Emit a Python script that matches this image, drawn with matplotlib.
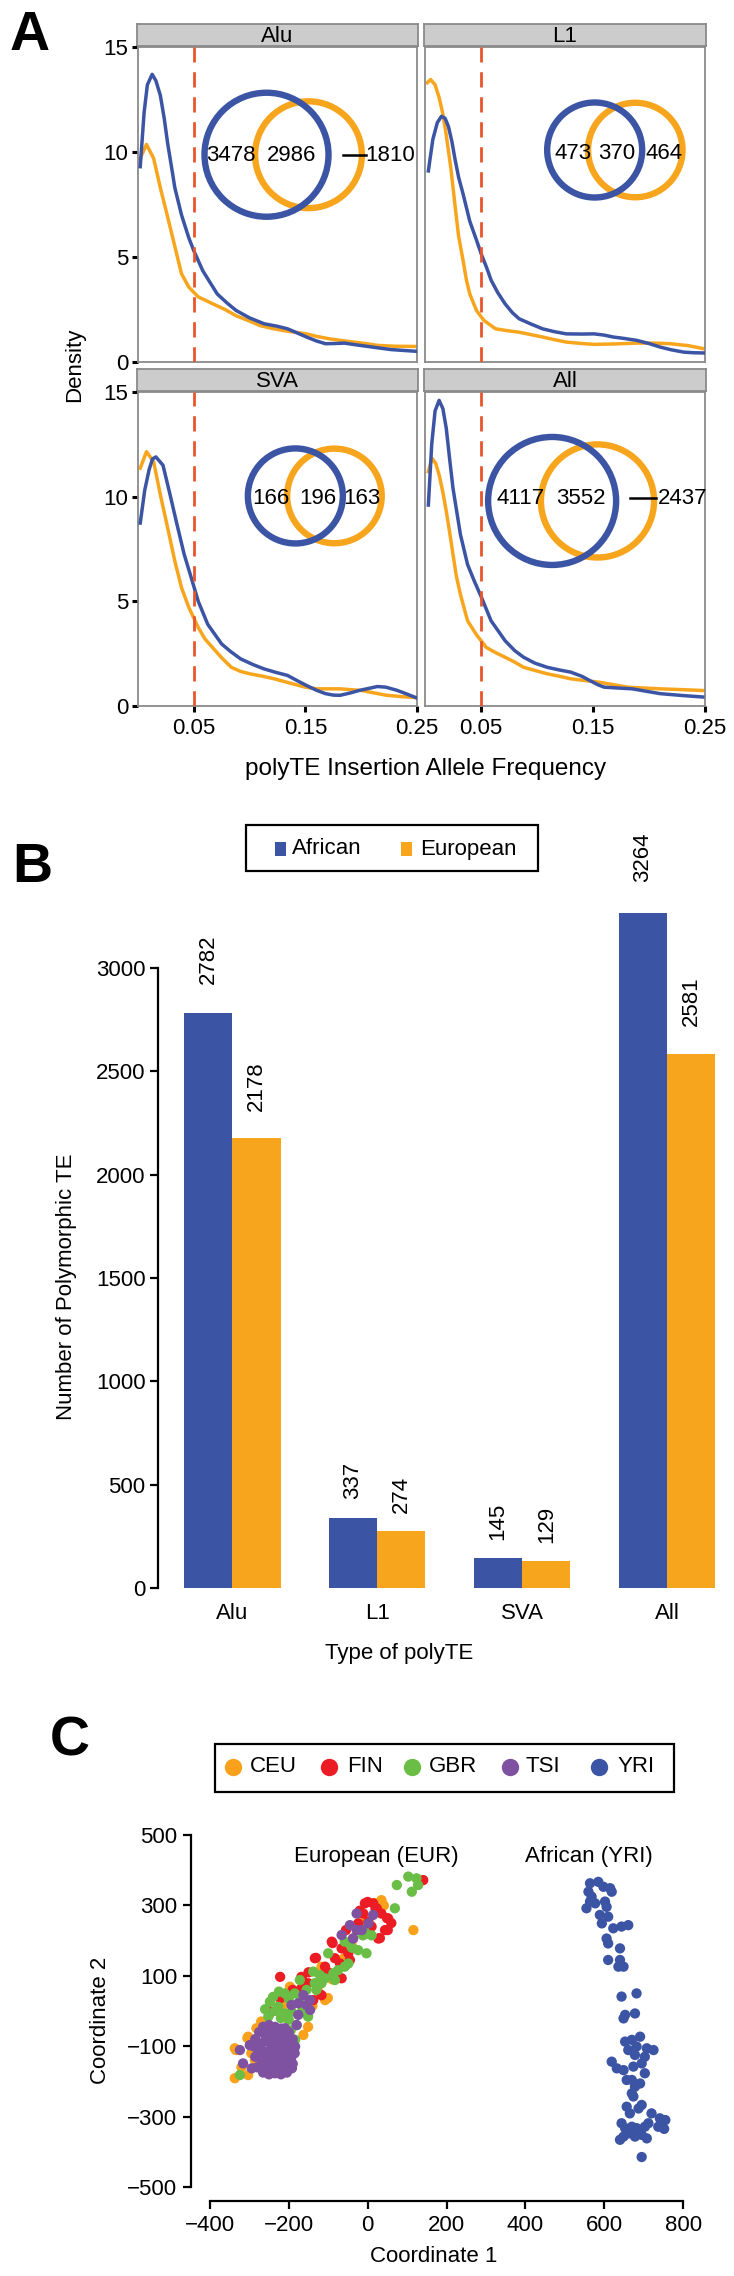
import numpy as np
import matplotlib
matplotlib.use('Agg')
import matplotlib.pyplot as plt
from matplotlib.patches import Ellipse, Rectangle
from matplotlib.lines import Line2D

plt.rcParams['font.family'] = ['Liberation Sans', 'DejaVu Sans']
plt.rcParams['font.size'] = 16

# ======================= DATA =======================
te_types = ['Alu', 'L1', 'SVA', 'All']
series_names = ['African', 'European']

# ---- Panel A: density of polyTE insertion allele frequency ----
alu_afr_x = [0.002, 0.0055, 0.0084, 0.0127, 0.016, 0.020, 0.0235, 0.0266, 0.030, 0.033, 0.039, 0.0456, 0.050, 0.058, 0.065, 0.071, 0.080, 0.088, 0.100, 0.113, 0.125, 0.134, 0.142, 0.151, 0.160, 0.168, 0.176, 0.185, 0.195, 0.206, 0.217, 0.227, 0.238, 0.249]
alu_afr_y = [9.3, 11.9, 13.2, 13.7, 13.4, 12.7, 11.6, 10.4, 9.3, 8.3, 7.0, 5.9, 5.3, 4.35, 3.75, 3.24, 2.8, 2.45, 2.1, 1.82, 1.7, 1.58, 1.4, 1.19, 1.0, 0.87, 0.88, 0.90, 0.82, 0.74, 0.66, 0.59, 0.55, 0.51]
alu_eur_x = [0.002, 0.0076, 0.014, 0.020, 0.0266, 0.033, 0.039, 0.0456, 0.054, 0.060, 0.067, 0.078, 0.088, 0.100, 0.109, 0.120, 0.130, 0.140, 0.151, 0.160, 0.172, 0.183, 0.193, 0.205, 0.215, 0.230, 0.249]
alu_eur_y = [9.7, 10.36, 9.7, 8.3, 6.9, 5.5, 4.2, 3.56, 3.1, 2.95, 2.77, 2.5, 2.2, 1.95, 1.74, 1.6, 1.5, 1.42, 1.34, 1.22, 1.1, 1.02, 0.95, 0.87, 0.79, 0.75, 0.74]

l1_afr_x = [0.003, 0.007, 0.011, 0.0147, 0.018, 0.021, 0.024, 0.027, 0.030, 0.034, 0.040, 0.046, 0.0505, 0.055, 0.059, 0.065, 0.0715, 0.078, 0.084, 0.095, 0.105, 0.115, 0.126, 0.140, 0.151, 0.160, 0.168, 0.178, 0.189, 0.200, 0.210, 0.220, 0.231, 0.240, 0.249]
l1_afr_y = [9.1, 10.6, 11.4, 11.7, 11.6, 11.2, 10.5, 9.6, 8.8, 8.0, 6.7, 5.8, 5.1, 4.5, 3.9, 3.3, 2.77, 2.35, 2.06, 1.8, 1.58, 1.45, 1.34, 1.33, 1.34, 1.28, 1.19, 1.12, 1.03, 0.88, 0.71, 0.58, 0.47, 0.44, 0.43]
l1_eur_x = [0.002, 0.005, 0.009, 0.0126, 0.016, 0.019, 0.023, 0.027, 0.030, 0.034, 0.037, 0.040, 0.046, 0.0526, 0.063, 0.075, 0.084, 0.095, 0.105, 0.115, 0.126, 0.140, 0.151, 0.170, 0.189, 0.205, 0.219, 0.235, 0.249]
l1_eur_y = [13.3, 13.45, 13.2, 12.6, 11.8, 10.8, 9.26, 7.36, 6.0, 4.83, 3.9, 3.24, 2.45, 1.98, 1.58, 1.48, 1.42, 1.3, 1.19, 1.07, 0.95, 0.88, 0.84, 0.86, 0.9, 0.9, 0.87, 0.78, 0.63]

sva_afr_x = [0.002, 0.006, 0.010, 0.013, 0.016, 0.0224, 0.0287, 0.035, 0.0414, 0.0477, 0.054, 0.0625, 0.075, 0.083, 0.092, 0.103, 0.113, 0.124, 0.134, 0.143, 0.151, 0.160, 0.168, 0.175, 0.181, 0.190, 0.198, 0.2145, 0.222, 0.232, 0.240, 0.249]
sva_afr_y = [8.74, 10.3, 11.3, 11.8, 11.9, 11.5, 10.1, 8.66, 7.24, 6.13, 5.0, 3.9, 2.96, 2.6, 2.25, 1.98, 1.77, 1.6, 1.46, 1.2, 0.98, 0.75, 0.59, 0.52, 0.51, 0.62, 0.74, 0.93, 0.9, 0.75, 0.59, 0.40]
sva_eur_x = [0.002, 0.0076, 0.014, 0.020, 0.0266, 0.033, 0.039, 0.0456, 0.054, 0.060, 0.0667, 0.075, 0.0836, 0.092, 0.100, 0.111, 0.122, 0.1385, 0.150, 0.160, 0.170, 0.181, 0.2005, 0.212, 0.223, 0.236, 0.249]
sva_eur_y = [11.36, 12.15, 11.67, 10.1, 8.5, 6.92, 5.65, 4.7, 3.75, 3.2, 2.8, 2.3, 1.85, 1.65, 1.54, 1.43, 1.3, 1.06, 0.9, 0.82, 0.82, 0.82, 0.74, 0.62, 0.51, 0.45, 0.40]

all_afr_x = [0.003, 0.006, 0.009, 0.0126, 0.016, 0.019, 0.022, 0.025, 0.0316, 0.038, 0.044, 0.0505, 0.059, 0.0715, 0.080, 0.088, 0.098, 0.109, 0.120, 0.130, 0.140, 0.147, 0.155, 0.160, 0.172, 0.185, 0.198, 0.210, 0.230, 0.248]
all_afr_y = [9.6, 12.5, 14.1, 14.6, 14.2, 13.26, 11.8, 10.4, 8.2, 6.76, 5.97, 5.18, 4.07, 3.12, 2.65, 2.33, 2.05, 1.85, 1.72, 1.62, 1.42, 1.22, 1.0, 0.9, 0.86, 0.82, 0.7, 0.59, 0.5, 0.43]
all_eur_x = [0.003, 0.0063, 0.0095, 0.0126, 0.016, 0.019, 0.022, 0.025, 0.028, 0.0316, 0.038, 0.046, 0.0547, 0.063, 0.0715, 0.080, 0.088, 0.098, 0.109, 0.120, 0.130, 0.142, 0.155, 0.168, 0.181, 0.195, 0.210, 0.230, 0.248]
all_eur_y = [11.2, 11.83, 11.6, 11.04, 10.2, 9.3, 8.3, 7.24, 6.2, 5.34, 4.07, 3.4, 2.8, 2.55, 2.33, 2.1, 1.85, 1.7, 1.54, 1.42, 1.3, 1.22, 1.14, 1.02, 0.9, 0.86, 0.82, 0.78, 0.74]

freq_cutoff = 0.05
density_ticks = [0, 5, 10, 15]
freq_ticks = [0.05, 0.15, 0.25]
freq_tick_labels = ['0.05', '0.15', '0.25']

# Venn counts (African only, shared, European only)
venn_afr_only = [3478, 473, 166, 4117]
venn_shared = [2986, 370, 196, 3552]
venn_eur_only = [1810, 464, 163, 2437]

# ---- Panel B: number of polymorphic TEs ----
bar_african = [2782, 337, 145, 3264]
bar_european = [2178, 274, 129, 2581]
count_ticks = [0, 500, 1000, 1500, 2000, 2500, 3000]

# ---- Panel C: MDS coordinates ----
pop_names = ['CEU', 'FIN', 'GBR', 'TSI', 'YRI']
ceu_x = [35, 116, -15, -117, -197, -108, -282, -303, -337, -337, -151, -163, -286, -303, -101, -305, -334, -263, 41, -90, -40, -210, 18,
         -320, -295, -270, -250, -140, -125, -60]
ceu_y = [315, 230, 254, 126, 69, 31, -49, -73, -106, -191, -45, -68, -139, -182, 37, -77, -111, -159, 300, 90, 185, 20, 307,
         -160, -120, -30, -10, 15, 55, 150]
fin_x = [141, -7, 14, 23, 35, 52, 44, 27, -11, 2, 10, -24, -37, -91, -66, -49, -45, -134, -83, -70, -222, -168, -151, -66, -108, -168,
         -222, -117, -138, -244, -282, 0, 49, 51, 31, -89, -131, -167, -20, 20, -55, -100, -150, -190, -5, 60]
fin_y = [372, 306, 306, 292, 277, 263, 230, 206, 277, 254, 240, 249, 206, 197, 178, 164, 145, 150, 150, 135, 97, 97, 79, 93, 126, 64,
         36, 45, 31, -2, -87, 310, 264, 230, 207, 193, 151, 94, 285, 290, 230, 110, 110, 60, 220, 250]
gbr_x = [74, 103, 124, 128, 112, 69, -58, -24, -3, -7, -100, -138, -121, -108, -87, -75, -58, -49, -172, -134, -117, -83, -248, -210,
         -227, -210, -193, -168, -252, -180, -151, -184, -324, -261, -12,
         -240, -225, -200, -185, -170, -235, -220, -200, -165, -260, -195, -155, -130, -40, 10]
gbr_y = [358, 382, 377, 358, 339, 292, 197, 173, 164, 225, 164, 112, 102, 93, 107, 116, 126, 135, 88, 79, 79, 88, 26, 50,
         12, -7, -2, 17, -16, -40, -16, -82, -182, -168, 215,
         40, 55, 35, 50, 40, 0, -20, -25, 0, 5, -55, 60, 60, 180, 215]
tsi_x = [-28, 14, 2, -45, -28, -15, -66, -37, -163, -146, -155, -193, -176, -146, -176, -180, -210, -324, -299, -316, -294,
         -260, -244, -227, -210, -269, -252, -235, -218, -201, -184, -277, -260, -244, -227, -210, -193, -269, -252, -235,
         -218, -201, -260, -244, -227, -210, -235, -193, -227, -192,
         -285, -275, -265, -250, -235, -220, -200, -190, -185, -190, -205, -220, -250, -265, -280, -285, -290, -275, -245,
         -230, -215, -250, -235, -220, -205, -265, -240, -225, -200, -255, -240, -215, -195]
tsi_y = [277, 273, 249, 244, 230, 230, 216, 206, 45, 31, 17, 17, 22, 3, -11, -40, -49, -111, -97, -149, -163,
         -68, -59, -63, -78, -92, -87, -87, -97, -101, -101, -116, -116, -111, -120, -120, -130, -139, -139, -139,
         -144, -144, -158, -163, -163, -158, -177, -163, -168, -162,
         -80, -60, -45, -40, -45, -50, -60, -80, -120, -150, -175, -180, -180, -175, -160, -130, -100, -95, -95,
         -105, -110, -125, -125, -135, -130, -130, -150, -150, -115, -70, -80, -75, -90]
yri_x = [564, 585, 598, 615, 619, 560, 568, 564, 555, 577, 602, 606, 589, 610, 594, 623, 644, 661, 606, 610, 640, 610, 640, 636, 649,
         644, 682, 653, 678, 649, 653, 670, 691, 682, 708, 725, 678, 703, 661, 619, 632, 649, 674, 695, 703, 657, 670, 678, 691, 670,
         657, 687, 695, 665, 720, 741, 737, 644, 653, 670, 682, 703, 712, 661, 678, 695, 708, 640, 649, 674, 695, 755, 752]
yri_y = [363, 367, 353, 349, 339, 339, 325, 311, 292, 306, 311, 296, 273, 268, 249, 235, 240, 244, 206, 192, 178, 145, 145, 126, 126,
         41, 50, -11, -7, -21, -87, -82, -73, -101, -106, -111, -125, -130, -111, -144, -163, -168, -158, -149, -177, -196, -196, -215, -206, -234,
         -272, -277, -267, -291, -291, -305, -329, -319, -333, -329, -333, -329, -319, -348, -357, -352, -362, -366, -357, -243, -415, -310, -335]
pop_x = [ceu_x, fin_x, gbr_x, tsi_x, yri_x]
pop_y = [ceu_y, fin_y, gbr_y, tsi_y, yri_y]
coord_xticks = [-400, -200, 0, 200, 400, 600, 800]
coord_yticks = [-500, -300, -100, 100, 300, 500]

# ======================= STYLE =======================
BLUE = '#3B54A4'
ORANGE = '#F8A51E'
DASH = '#E9552B'
POP_COLORS = ['#F9A11B', '#EC1C24', '#6ABD45', '#7E52A0', '#3B54A4']
FS = 16

W, H, DPI = 734, 2276, 100
fig = plt.figure(figsize=(W / DPI, H / DPI), dpi=DPI)


def R(x0, y0, x1, y1):
    return [x0 / W, 1 - y1 / H, (x1 - x0) / W, (y1 - y0) / H]


def FX(x):
    return x / W


def FY(y):
    return 1 - y / H


# ======================= PANEL A =======================
afr_curves = [(alu_afr_x, alu_afr_y), (l1_afr_x, l1_afr_y), (sva_afr_x, sva_afr_y), (all_afr_x, all_afr_y)]
eur_curves = [(alu_eur_x, alu_eur_y), (l1_eur_x, l1_eur_y), (sva_eur_x, sva_eur_y), (all_eur_x, all_eur_y)]
panel_boxes = [(138, 47, 417, 362), (425, 47, 705, 362), (138, 392, 417, 706), (425, 392, 705, 706)]
venn_cb = [(0.4606, 0.658), (0.606, 0.673), (0.564, 0.669), (0.454, 0.653)]
venn_co = [0.611, 0.751, 0.704, 0.616]
venn_rb = [62, 47.5, 47.5, 64]
venn_tx = [(0.333, 0.550, 0.905), (0.529, 0.686, 0.854), (0.477, 0.645, 0.803), (0.343, 0.557, 0.921)]
venn_ty = [0.657, 0.663, 0.662, 0.662]
venn_line = [(0.735, 0.817), None, None, (0.732, 0.826)]

for i, t in enumerate(te_types):
    x0, y0, x1, y1 = panel_boxes[i]
    axw, axh = x1 - x0, y1 - y0
    sax = fig.add_axes(R(x0 - 1, y0 - 23, x1 + 1, y0 - 1))
    sax.set_facecolor('#CCCCCC')
    sax.set_xticks([]); sax.set_yticks([])
    for s in sax.spines.values():
        s.set_color('#8A8A8A'); s.set_linewidth(1.3)
    sax.text(0.5, 0.45, t, ha='center', va='center', fontsize=FS, transform=sax.transAxes)

    ax = fig.add_axes(R(x0, y0, x1, y1))
    ax.plot(*eur_curves[i], color=ORANGE, lw=2.5, zorder=2)
    ax.plot(*afr_curves[i], color=BLUE, lw=2.5, zorder=3)
    ax.axvline(freq_cutoff, color=DASH, lw=2.0, ls=(0, (5.5, 3.5)), zorder=4)
    ax.set_xlim(0, 0.25)
    ax.set_ylim(0, 15)
    for s in ax.spines.values():
        s.set_color('#8A8A8A'); s.set_linewidth(1.3)
    ax.tick_params(color='black', width=2.2, length=4, labelsize=FS)
    if i % 2 == 0:
        ax.set_yticks(density_ticks)
        ax.tick_params(axis='y', pad=3)
    else:
        ax.set_yticks([])
    if i >= 2:
        ax.set_xticks(freq_ticks)
        ax.set_xticklabels(freq_tick_labels)
        ax.tick_params(axis='x', pad=5)
    else:
        ax.set_xticks([])

    n_afr = venn_afr_only[i] + venn_shared[i]
    n_eur = venn_shared[i] + venn_eur_only[i]
    rb = venn_rb[i]
    ro = rb * np.sqrt(n_eur / n_afr)
    cbx, cby = venn_cb[i]
    ax.add_patch(Ellipse((venn_co[i], cby), 2 * ro / axw, 2 * ro / axh, transform=ax.transAxes,
                         fill=False, ec=ORANGE, lw=4.6, zorder=5))
    ax.add_patch(Ellipse((cbx, cby), 2 * rb / axw, 2 * rb / axh, transform=ax.transAxes,
                         fill=False, ec=BLUE, lw=4.6, zorder=6))
    for xt, val in zip(venn_tx[i], [venn_afr_only[i], venn_shared[i], venn_eur_only[i]]):
        ax.text(xt, venn_ty[i], str(val), transform=ax.transAxes, ha='center', va='center',
                fontsize=FS, zorder=7)
    if venn_line[i] is not None:
        ax.plot(venn_line[i], [venn_ty[i], venn_ty[i]], transform=ax.transAxes, color='black', lw=1.8, zorder=7)

fig.text(FX(75), FY(365), 'Density', rotation=90, ha='center', va='center', fontsize=FS)
fig.text(FX(426), FY(769), 'polyTE Insertion Allele Frequency', ha='center', va='center', fontsize=17.5)

# ======================= PANEL B =======================
axB = fig.add_axes(R(158, 880, 734, 1588))
xa = [1.5 + 3 * g for g in range(len(te_types))]
xe = [2.5 + 3 * g for g in range(len(te_types))]
axB.bar(xa, bar_african, width=1.0, color=BLUE, edgecolor='none')
axB.bar(xe, bar_european, width=1.0, color=ORANGE, edgecolor='none')
axB.set_xlim(0.462, 12.387)
axB.set_ylim(0, 3425)
for s in ['top', 'right', 'bottom']:
    axB.spines[s].set_visible(False)
axB.spines['left'].set_bounds(0, 3000)
axB.spines['left'].set_linewidth(1.6)
axB.set_yticks(count_ticks)
axB.tick_params(axis='y', length=6, width=1.6, pad=3, labelsize=FS)
axB.set_xticks([2 + 3 * g for g in range(len(te_types))])
axB.set_xticklabels(te_types)
axB.tick_params(axis='x', length=0, pad=11, labelsize=FS)
for xs, vals in [(xa, bar_african), (xe, bar_european)]:
    for xv, v in zip(xs, vals):
        axB.text(xv, v * 1.02 + 85, str(v), rotation=90, ha='center', va='bottom', fontsize=FS)
fig.text(FX(67), FY(1287), 'Number of Polymorphic TE', rotation=90, ha='center', va='center', fontsize=FS)
fig.text(FX(399), FY(1654), 'Type of polyTE', ha='center', va='center', fontsize=FS)

# legend B (drawn by hand to match the boxed layout)
fig.patches.append(Rectangle((FX(246), FY(871)), 292 / W, 46 / H, transform=fig.transFigure,
                             fill=False, ec='black', lw=1.6))
for name, col, sx, tx in zip(series_names, [BLUE, ORANGE], [275, 401], [292, 420]):
    fig.patches.append(Rectangle((FX(sx), FY(856)), 11 / W, 14 / H, transform=fig.transFigure,
                                 color=col, ec='none'))
    fig.text(FX(tx), FY(849), name, ha='left', va='center', fontsize=FS)

# ======================= PANEL C =======================
axC = fig.add_axes(R(191, 1821, 702, 2201))
for xs, ys, c in zip(pop_x, pop_y, POP_COLORS):
    axC.scatter(xs, ys, s=55, color=c, edgecolors='none', zorder=3)
axC.set_xlim(-448, 848)
axC.set_ylim(-540, 540)
for s in ['top', 'right']:
    axC.spines[s].set_visible(False)
axC.spines['left'].set_bounds(-500, 500)
axC.spines['bottom'].set_bounds(-400, 800)
for s in ['left', 'bottom']:
    axC.spines[s].set_linewidth(1.6)
axC.set_xticks(coord_xticks)
axC.set_yticks(coord_yticks)
axC.tick_params(length=6, width=1.6, pad=4, labelsize=FS)
axC.text(23, 440, 'European (EUR)', ha='center', va='center', fontsize=FS)
axC.text(562, 440, 'African (YRI)', ha='center', va='center', fontsize=FS)
fig.text(FX(101), FY(2020), 'Coordinate 2', rotation=90, ha='center', va='center', fontsize=FS)
fig.text(FX(434), FY(2257), 'Coordinate 1', ha='center', va='center', fontsize=FS)

# legend C (hand-placed)
fig.patches.append(Rectangle((FX(215), FY(1792)), 459 / W, 48 / H, transform=fig.transFigure,
                             fill=False, ec='black', lw=1.6))
for name, col, mx, tx in zip(pop_names, POP_COLORS, [233, 329, 412, 510, 599], [250, 347, 429, 526, 618]):
    fig.lines.append(Line2D([FX(mx)], [FY(1767)], marker='o', markersize=12.5, ls='none',
                            color=col, mec='none', transform=fig.transFigure))
    fig.text(FX(tx), FY(1767), name, ha='left', va='center', fontsize=FS)

# ======================= PANEL LABELS =======================
fig.text(FX(10), FY(50), 'A', fontsize=40, fontweight='bold', ha='left', va='baseline')
fig.text(FX(12), FY(882), 'B', fontsize=40, fontweight='bold', ha='left', va='baseline')
fig.text(FX(50), FY(1756), 'C', fontsize=40, fontweight='bold', ha='left', va='baseline')

fig.savefig('out.png', dpi=DPI)
